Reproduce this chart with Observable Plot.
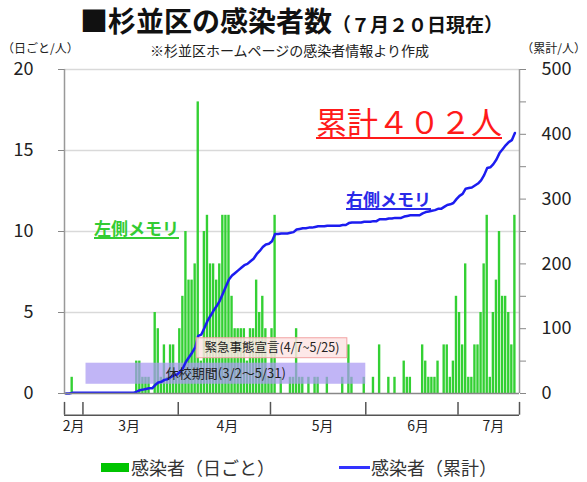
<!DOCTYPE html>
<html><head><meta charset="utf-8">
<script src="https://cdn.jsdelivr.net/npm/d3@7"></script>
<script src="https://cdn.jsdelivr.net/npm/@observablehq/plot@0.6"></script>
<style>
body{margin:0;background:#fff;font-family:"Noto Sans CJK JP","Noto Sans",sans-serif;}
#wrap{position:relative;width:587px;height:482px;overflow:hidden;background:#fff;}
.abs{position:absolute;white-space:nowrap;line-height:1;}
.ib{display:inline-block;line-height:1;}
#chart{position:absolute;left:0;top:48px;}
</style></head><body><div id="wrap">
<div class="abs" style="left:80px;top:6px;height:29px;color:#111;font-weight:bold;font-size:28px;"><span class="ib" style="font-size:28px;">■杉並区の感染者数</span><span class="ib" style="font-size:19px;">（７月２０日現在）</span></div>
<div class="abs" style="left:2px;top:42px;font-size:12px;color:#222;">（日ごと/人）</div>
<div class="abs" style="left:150px;top:43px;font-size:14px;color:#222;">※杉並区ホームページの感染者情報より作成</div>
<div class="abs" style="right:1px;top:42px;font-size:12px;color:#222;">（累計/人）</div>
<div id="chart"></div>
<div class="abs" style="left:316px;top:105px;font-size:31px;color:#ff1a1a;text-decoration:underline;text-decoration-thickness:2px;text-underline-offset:3px;">累計４０２人</div>
<div class="abs" style="left:346px;top:190px;font-size:17px;font-weight:bold;color:#2a2ae8;text-decoration:underline;text-decoration-thickness:1.5px;text-underline-offset:2px;">右側メモリ</div>
<div class="abs" style="left:94px;top:219px;font-size:17px;font-weight:bold;color:#33cc33;text-decoration:underline;text-decoration-thickness:1.5px;text-underline-offset:2px;">左側メモリ</div>
<div class="abs" style="left:101px;top:463px;width:28px;height:9px;background:#00c400;"></div>
<div class="abs" style="left:131px;top:458px;font-size:18px;color:#333;">感染者（日ごと）</div>
<div class="abs" style="left:339px;top:466px;width:31px;height:3px;background:#3333ff;"></div>
<div class="abs" style="left:371px;top:458px;font-size:18px;color:#333;">感染者（累計）</div>
</div>
<script>
// Daily new cases (people), Suginami ward, starting 2020-02-24
const febDaily = [0,0,1,0,0,0];
const marDaily = [0,0,0,0,0,0,0,0,0,0,0,0,0,0,0,0,0,2,2,1,1,1,0,5,4,1,3,1,3,3,1];
const aprDaily = [4,6,10,7,7,8,18,2,10,11,8,8,7,8,11,11,11,6,4,4,4,4,2,4,4,7,5,6,4,1];
const mayDaily = [4,11,0,1,0,0,1,1,4,1,1,0,1,0,1,1,0,0,1,0,0,0,0,1,0,3,1,0,0,0,1];
const junDaily = [0,0,1,0,3,0,0,1,0,1,0,0,2,1,1,0,0,0,3,2,1,1,1,2,0,3,3,1,2,6];
const julDaily = [5,3,8,1,1,3,3,5,8,11,1,5,7,10,6,6,5,3,11];
const startDate = "2020-02-24";
const endDate = "2020-07-21";
const monthBoundaries = ["2020-02-24","2020-03-01","2020-04-01","2020-05-01","2020-06-01","2020-07-01","2020-07-21"];
const monthLabels = ["2月","3月","4月","5月","6月","7月"];
const monthLabelDates = ["2020-02-27","2020-03-16","2020-04-17","2020-05-18","2020-06-18","2020-07-12T12:00"];
const leftTicks = [0,5,10,15,20];
const rightTicks = [0,50,100,150,200,250,300,350,400,450,500];
const periodNames = ["休校期間(3/2～5/31)","緊急事態宣言(4/7~5/25)"];
const periodStarts = ["2020-03-02","2020-04-07"];
const periodEnds = ["2020-06-01","2020-05-26"];

const DAY = 864e5;
const t0 = Date.parse(startDate);
const daily = [...febDaily,...marDaily,...aprDaily,...mayDaily,...junDaily,...julDaily];
const cum = d3.cumsum(daily);
const rows = daily.map((v,i)=>({
  date:new Date(t0+i*DAY), next:new Date(t0+(i+1)*DAY), mid:new Date(t0+(i+0.5)*DAY), value:v, cum:cum[i]
}));
const ratio = 500/20;
const periods = periodNames.map((n,i)=>({name:n, x1:new Date(periodStarts[i]), x2:new Date(periodEnds[i])}));
const labels = monthLabels.map((m,i)=>({m, x:new Date(monthLabelDates[i])}));
const bounds = monthBoundaries.map(d=>new Date(d));

const plot = Plot.plot({
  width:587, height:408,
  marginLeft:64, marginRight:68, marginTop:21, marginBottom:63,
  style:{fontFamily:'"Noto Sans CJK JP","Noto Sans",sans-serif', fontSize:"18px", color:"#222", background:"transparent"},
  x:{type:"utc", domain:[new Date(startDate), new Date(endDate)], axis:null},
  y:{domain:[0,20], axis:null},
  marks:[
    Plot.ruleY([5,10,15,20], {stroke:"#d9d9d9", strokeWidth:1.5}),
    Plot.rectY(rows, {x1:"date", x2:"next", y:"value", fill:"#33d033", insetLeft:0.35, insetRight:0.35}),
    Plot.rect([periods[0]], {x1:"x1", x2:"x2", y1:0.57, y2:1.87, fill:"#a999f2", fillOpacity:0.72}),
    Plot.line(rows, {x:"mid", y:d=>d.cum/ratio, stroke:"#1c1cf0", strokeWidth:2.5}),
    Plot.rect([periods[1]], {x1:"x1", x2:"x2", y1:2.18, y2:3.41, fill:"#fde4e4", fillOpacity:0.85, stroke:"#f2a3a3", strokeWidth:1}),
    Plot.text([periods[0]], {x:d=>new Date((+d.x1 + +d.x2)/2), y:1.22, text:"name", fontSize:13, fill:"#222"}),
    Plot.text([periods[1]], {x:d=>new Date((+d.x1 + +d.x2)/2), y:2.8, text:"name", fontSize:12.5, fill:"#222"}),
    Plot.ruleY([0], {stroke:"#888", strokeWidth:1.5}),
    Plot.ruleX([bounds[0], bounds[bounds.length-1]], {y1:0, y2:20, stroke:"#999", strokeWidth:1.5}),
    Plot.axisY({anchor:"left", label:null, ticks:leftTicks, tickSize:6, tickPadding:25, stroke:"#888", fill:"#222"}),
    Plot.axisY({anchor:"right", label:null, ticks:rightTicks.map(v=>v/ratio), tickFormat:d=>(Math.round(d*ratio)%100===0? String(Math.round(d*ratio)) : ""), tickSize:6, tickPadding:16, stroke:"#888", fill:"#222"}),
    Plot.ruleX(bounds, {y1:-0.55, y2:-1.34, stroke:"#555", strokeWidth:1.5}),
    Plot.ruleY([-1.34], {x1:bounds[0], x2:bounds[bounds.length-1], stroke:"#555", strokeWidth:1.5}),
    Plot.text(labels, {x:"x", frameAnchor:"bottom", dy:37, text:"m", fontSize:14, fill:"#222"})
  ]
});
document.getElementById("chart").appendChild(plot);
</script>
</body></html>
